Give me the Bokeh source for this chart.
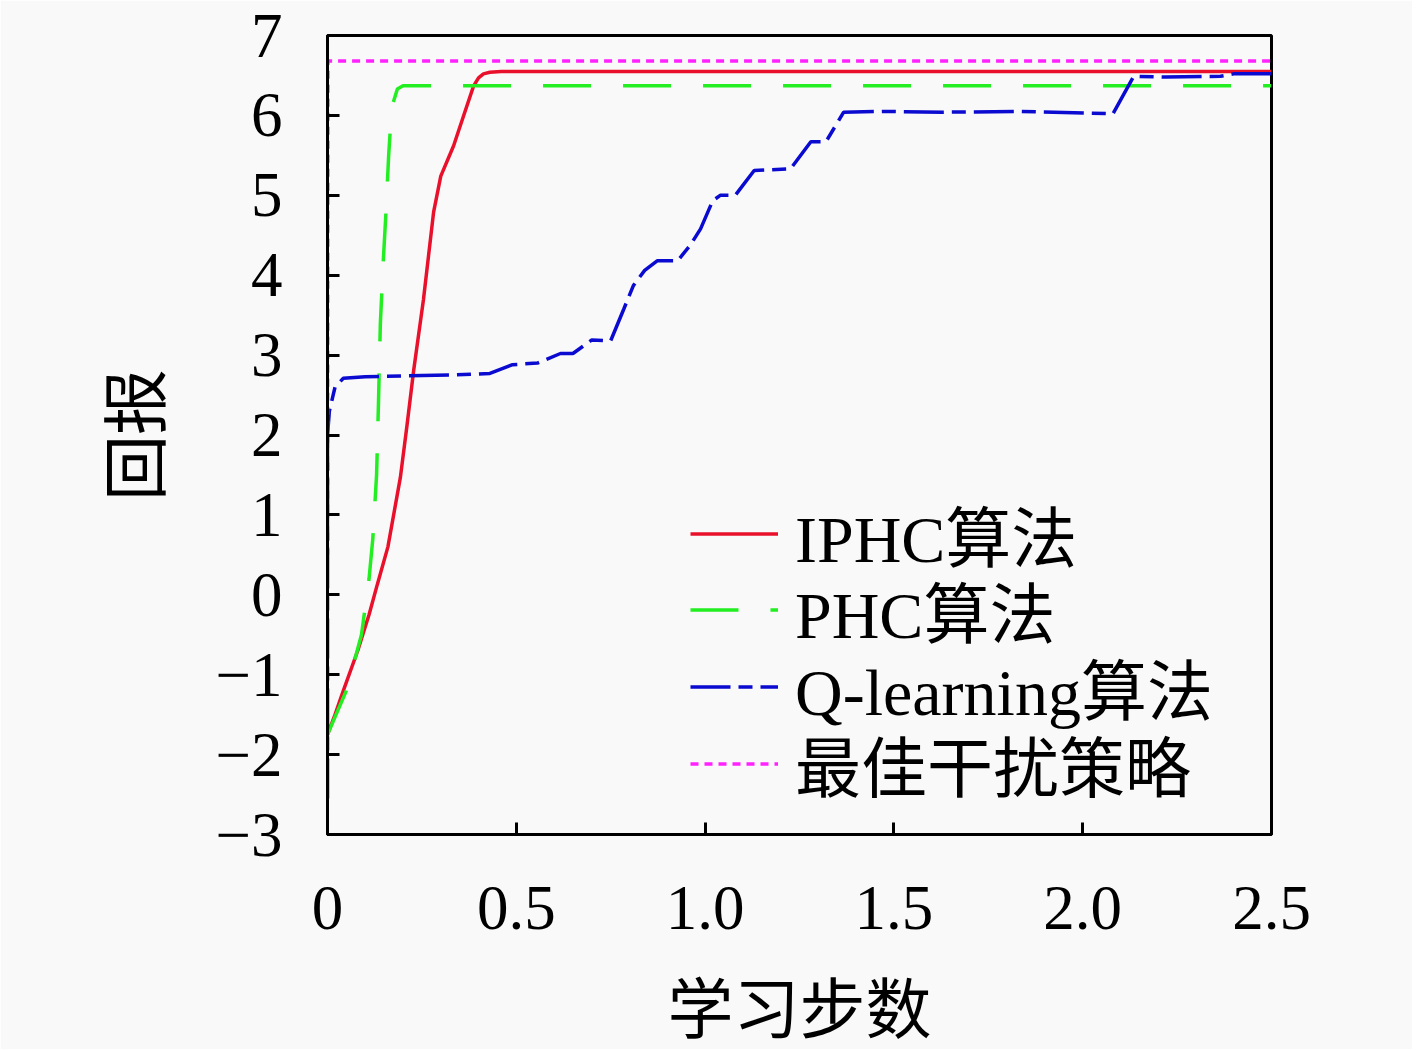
from bokeh.plotting import figure
from bokeh.models import Range1d, FixedTicker, Legend, LegendItem
from bokeh.embed import file_html
from bokeh.resources import INLINE

# ---------------- data ----------------
x_ticks = [0, 0.5, 1.0, 1.5, 2.0, 2.5]
x_tick_labels = ["0", "0.5", "1.0", "1.5", "2.0", "2.5"]
y_ticks = [-3, -2, -1, 0, 1, 2, 3, 4, 5, 6, 7]
y_tick_labels = ["\u22123", "\u22122", "\u22121", "0", "1", "2", "3", "4", "5", "6", "7"]

series_names = ["IPHC算法", "PHC算法", "Q-learning算法", "最佳干扰策略"]

iphc_x = [0, 0.02, 0.042, 0.08, 0.11, 0.132, 0.16, 0.193, 0.21, 0.228, 0.254,
          0.281, 0.30, 0.334, 0.36, 0.387, 0.40, 0.413, 0.43, 0.46, 2.5]
iphc_y = [-1.75, -1.5, -1.2, -0.7, -0.25, 0.13, 0.6, 1.47, 2.1, 2.8, 3.69,
          4.79, 5.24, 5.62, 5.99, 6.37, 6.47, 6.52, 6.54, 6.55, 6.55]

phc_x = [0, 0.05, 0.09, 0.11, 0.12, 0.13, 0.135, 0.14, 0.148, 0.155, 0.162,
         0.17, 0.185, 0.2, 2.5]
phc_y = [-1.75, -1.2, -0.5, 0.2, 0.7, 1.5, 2.4, 3.4, 4.2, 4.8, 5.5,
         6.1, 6.33, 6.37, 6.37]

ql_x = [0, 0, 0.005, 0.02, 0.042, 0.1, 0.2, 0.326, 0.43, 0.49, 0.556, 0.617,
        0.65, 0.70, 0.75, 0.785, 0.81, 0.84, 0.873, 0.927, 0.96, 0.988, 1.02,
        1.04, 1.08, 1.13, 1.226, 1.28, 1.32, 1.367, 1.47, 1.63, 1.835, 2.08,
        2.135, 2.22, 2.365, 2.4, 2.5]
ql_y = [-2.55, 2.0, 2.3, 2.6, 2.71, 2.73, 2.74, 2.75, 2.77, 2.88, 2.9, 3.02,
        3.02, 3.19, 3.18, 3.58, 3.87, 4.06, 4.18, 4.18, 4.37, 4.58, 4.93,
        5.0, 5.0, 5.31, 5.33, 5.67, 5.67, 6.04, 6.05, 6.04, 6.05, 6.02,
        6.49, 6.48, 6.49, 6.52, 6.52]

best_x = [0, 0.001, 2.5]
best_y = [0.5, 6.68, 6.68]

# ---------------- styles ----------------
FONT = "'Liberation Serif', 'Noto Sans CJK SC', serif"
FS = "66px"
TICK_FS = "63px"
BG = "#f9f9f9"

p = figure(width=1412, height=1049, output_backend="svg", toolbar_location=None,
           x_range=Range1d(0, 2.5), y_range=Range1d(-3, 7),
           min_border_left=327, min_border_top=35, min_border_right=141,
           min_border_bottom=213)
p.background_fill_color = BG
p.border_fill_color = BG
p.outline_line_color = "black"
p.outline_line_width = 3
p.grid.visible = False

for ax in (p.xaxis[0], p.yaxis[0]):
    ax.axis_line_width = 3
    ax.axis_line_color = "black"
    ax.major_tick_in = 12
    ax.major_tick_out = 0
    ax.major_tick_line_width = 3
    ax.minor_tick_line_color = None
    ax.major_label_text_font = FONT
    ax.major_label_text_font_size = TICK_FS
    ax.major_label_text_color = "black"
    ax.axis_label_text_font = FONT
    ax.axis_label_text_font_size = FS
    ax.axis_label_text_font_style = "normal"
    ax.axis_label_text_color = "black"

p.xaxis.ticker = FixedTicker(ticks=x_ticks)
p.xaxis.major_label_overrides = {t: l for t, l in zip(x_ticks, x_tick_labels)}
p.yaxis.ticker = FixedTicker(ticks=y_ticks)
p.yaxis.major_label_overrides = {t: l for t, l in zip(y_ticks, y_tick_labels)}
p.xaxis.axis_label = "学习步数"
p.yaxis.axis_label = "回报"
p.xaxis.major_label_standoff = 52
p.xaxis.axis_label_standoff = 42
p.yaxis.major_label_standoff = 45
p.yaxis.axis_label_standoff = 38

LW = 3.5
r1 = p.line(iphc_x, iphc_y, line_color="#e8102a", line_width=LW)
r2 = p.line(phc_x, phc_y, line_color="#22ee22", line_width=LW, line_dash="48 32")
r3 = p.line(ql_x, ql_y, line_color="#0a0ad0", line_width=LW, line_dash="40 8 14 8")
r4 = p.line(best_x, best_y, line_color="#ff22ff", line_width=LW, line_dash="8 6")

# one legend block per row so the rows keep the reference's spacing
row_offsets = [253, 177, 100, 23]
for name, r, yoff in zip(series_names, [r1, r2, r3, r4], row_offsets):
    lg = Legend(items=[LegendItem(label=name, renderers=[r])], location=(363, yoff))
    lg.label_text_font = FONT
    lg.label_text_font_size = FS
    lg.label_text_color = "black"
    lg.glyph_width = 88
    lg.glyph_height = 77
    lg.label_height = 77
    lg.label_standoff = 17
    lg.spacing = 0
    lg.padding = 0
    lg.margin = 0
    lg.border_line_color = None
    lg.background_fill_alpha = 0
    p.add_layout(lg, "center")

open("out.html", "w").write(file_html(p, INLINE))
